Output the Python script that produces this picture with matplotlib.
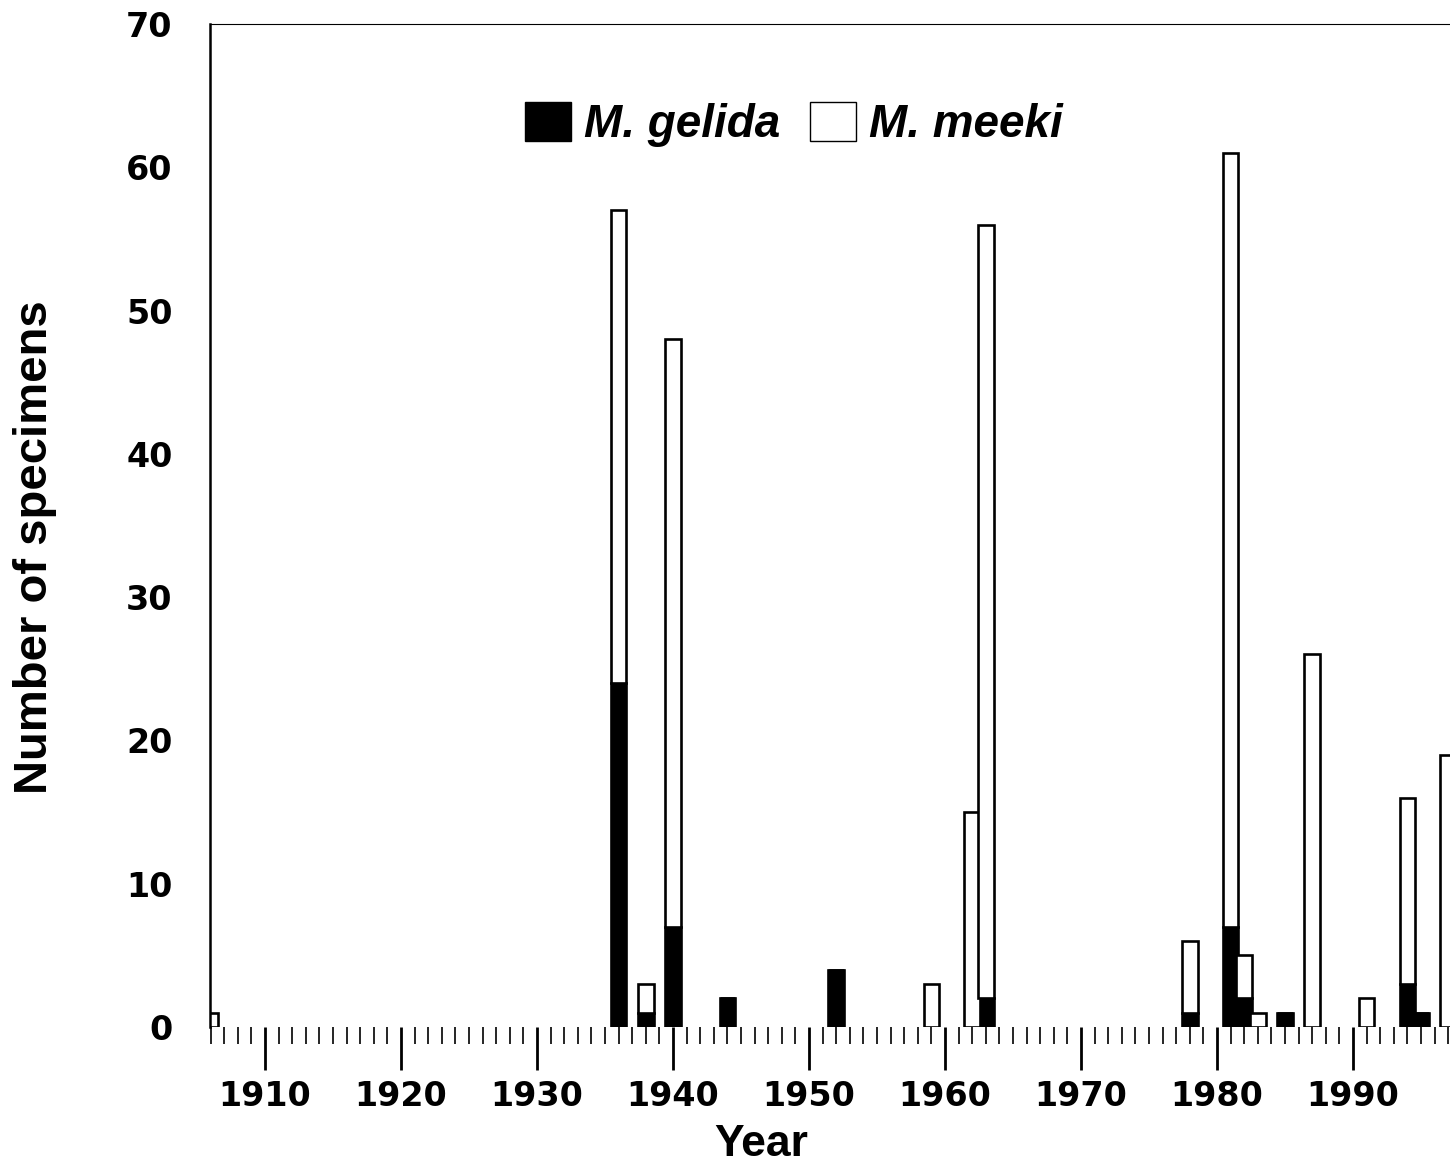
#Museum specimens per year: M. gelida vs M. meeki

import numpy as np
import matplotlib
matplotlib.use('Agg')
import matplotlib.pyplot as plt
from matplotlib.patches import Patch
from matplotlib.ticker import MultipleLocator


#Data:

years = [1906, 1936, 1938, 1940, 1944, 1952, 1959, 1962, 1963, 1978,
         1981, 1982, 1983, 1985, 1987, 1991, 1994, 1995, 1997]
gelida = [0, 24, 1, 7, 2, 4, 0, 0, 2, 1,
          7, 2, 0, 1, 0, 0, 3, 1, 0]
meeki = [1, 33, 2, 41, 0, 0, 3, 15, 54, 5,
         54, 3, 1, 0, 26, 2, 13, 0, 19]

x_ticks = [1910, 1920, 1930, 1940, 1950, 1960, 1970, 1980, 1990]
y_ticks = [0, 10, 20, 30, 40, 50, 60, 70]


#Figure

plt.rcParams['font.family'] = ['Liberation Sans', 'DejaVu Sans']
fig = plt.figure(figsize=(14.5, 11.67), dpi=100)
ax = fig.add_axes([210/1450, 140/1167, 1240/1450, 1003/1167])

bar_w = 1.15
ax.bar(years, gelida, width=bar_w, color='black', edgecolor='black', linewidth=1.9)
ax.bar(years, meeki, width=bar_w, bottom=gelida, color='white', edgecolor='black', linewidth=1.9)

ax.set_xlim(1905.96, 1997.13)
ax.set_ylim(0, 70)

#Axes / ticks

ax.spines['right'].set_visible(False)
ax.spines['bottom'].set_visible(False)
ax.spines['top'].set_linewidth(0.8)
ax.spines['left'].set_linewidth(1.8)

ax.xaxis.set_major_locator(MultipleLocator(10))
ax.xaxis.set_minor_locator(MultipleLocator(1))
ax.set_xticks(x_ticks)
ax.set_yticks(y_ticks)
ax.tick_params(axis='x', which='major', length=31, width=2.0, pad=7)
ax.tick_params(axis='x', which='minor', length=12, width=1.2)
ax.tick_params(axis='y', length=0, pad=27)

for lab in ax.get_xticklabels() + ax.get_yticklabels():
    lab.set_fontfamily('DejaVu Sans')
    lab.set_fontweight('bold')
    lab.set_fontsize(24)

fig.text(35/1450, 1 - 547/1167, 'Number of specimens', rotation=90,
         ha='center', va='center', fontsize=34, fontweight='bold')
fig.text(761/1450, 1 - 1145/1167, 'Year', ha='center', va='center',
         fontsize=32, fontweight='bold')

#Legend

handles = [Patch(facecolor='black', edgecolor='black'),
           Patch(facecolor='white', edgecolor='black', linewidth=1.0)]
ax.legend(handles, ['M. gelida', 'M. meeki'], ncol=2, loc='center',
          bbox_to_anchor=(0.471, 0.900), frameon=False,
          prop={'weight': 'bold', 'style': 'italic', 'size': 33},
          handlelength=1.0, handleheight=0.95, handletextpad=0.28,
          columnspacing=0.65, borderpad=0)

plt.savefig('out.png', dpi=100)
